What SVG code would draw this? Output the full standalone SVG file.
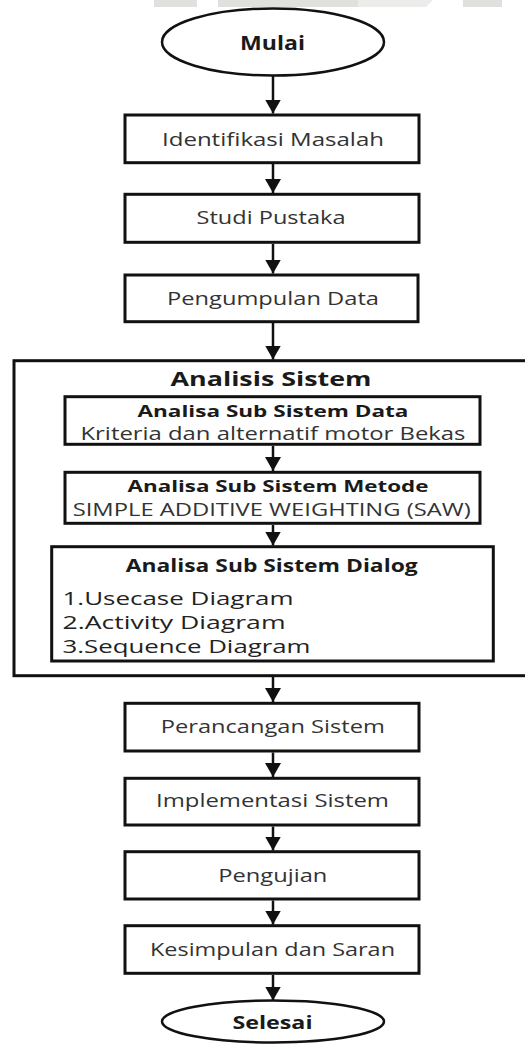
<svg xmlns="http://www.w3.org/2000/svg" width="525" height="1045" viewBox="0 0 525 1045">
  <defs>
    <marker id="arrow" viewBox="0 0 14 16" refX="14" refY="8" markerWidth="14" markerHeight="16" markerUnits="userSpaceOnUse" orient="auto">
      <path d="M0,0 L14,8 L0,16 z" fill="#111"/>
    </marker>
    <style>
      .box { fill: #fff; stroke: #111; stroke-width: 3; }
      .term { fill: #fff; stroke: #111; stroke-width: 2.5; }
      .frame { fill: none; stroke: #111; stroke-width: 3; }
      .edge { stroke: #111; stroke-width: 2.5; fill: none; marker-end: url(#arrow); }
      .lbl { font-family: "Open Sans", "Liberation Sans", sans-serif; font-size: 19px; fill: #333; text-anchor: middle; }
      .bold { font-family: "Open Sans", "Liberation Sans", sans-serif; font-weight: bold; fill: #1a1a1a; text-anchor: middle; }
      .item { font-family: "Open Sans", "Liberation Sans", sans-serif; font-size: 18.5px; fill: #222; }
      .band { fill: #e0e1dd; }
    </style>
  </defs>

  <rect width="525" height="1045" fill="#fff"/>

  <!-- light band along the top edge -->
  <g id="top-band">
    <rect class="band" x="154" y="0" width="43" height="7"/>
    <rect class="band" x="218" y="0" width="140" height="7"/>
    <polygon class="band" points="358,0 433,0 426,7 358,7" opacity="0.6"/>
    <rect class="band" x="463" y="0" width="39" height="7"/>
  </g>

  <!-- outer frame of the system analysis stage -->
  <g id="analisis-sistem">
    <rect class="frame" x="14" y="360.7" width="520" height="315"/>
    <text class="bold" x="271" y="386" font-size="20" textLength="201" lengthAdjust="spacingAndGlyphs">Analisis Sistem</text>
  </g>

  <g id="connectors">
    <line class="edge" x1="273" y1="76" x2="273" y2="113.5"/>
    <line class="edge" x1="273" y1="164" x2="273" y2="193"/>
    <line class="edge" x1="273" y1="244" x2="273" y2="273.5"/>
    <line class="edge" x1="273" y1="323" x2="273" y2="359.5"/>
    <line class="edge" x1="273" y1="446" x2="273" y2="471"/>
    <line class="edge" x1="273" y1="525" x2="273" y2="545.5"/>
    <line class="edge" x1="273" y1="677" x2="273" y2="702"/>
    <line class="edge" x1="273" y1="752.5" x2="273" y2="777"/>
    <line class="edge" x1="273" y1="826.5" x2="273" y2="850.5"/>
    <line class="edge" x1="273" y1="900.5" x2="273" y2="924.5"/>
    <line class="edge" x1="273" y1="975" x2="273" y2="1000.5"/>
  </g>

  <g id="mulai">
    <ellipse class="term" cx="273" cy="42" rx="111" ry="33.5"/>
    <text class="bold" x="272.5" y="50" font-size="19" textLength="65" lengthAdjust="spacingAndGlyphs">Mulai</text>
  </g>

  <g id="identifikasi-masalah">
    <rect class="box" x="125" y="115" width="294" height="47.7"/>
    <text class="lbl" x="273" y="146" textLength="222" lengthAdjust="spacingAndGlyphs">Identifikasi Masalah</text>
  </g>

  <g id="studi-pustaka">
    <rect class="box" x="125" y="194.3" width="294" height="48"/>
    <text class="lbl" x="271" y="224" textLength="149" lengthAdjust="spacingAndGlyphs">Studi Pustaka</text>
  </g>

  <g id="pengumpulan-data">
    <rect class="box" x="125" y="275" width="293" height="46.7"/>
    <text class="lbl" x="273" y="305" textLength="212" lengthAdjust="spacingAndGlyphs">Pengumpulan Data</text>
  </g>

  <g id="sub-sistem-data">
    <rect class="box" x="65" y="396.7" width="415" height="47.6"/>
    <text class="bold" x="273" y="416.7" font-size="16.5" textLength="271" lengthAdjust="spacingAndGlyphs">Analisa Sub Sistem Data</text>
    <text class="lbl" x="273" y="440" textLength="385" lengthAdjust="spacingAndGlyphs">Kriteria dan alternatif motor Bekas</text>
  </g>

  <g id="sub-sistem-metode">
    <rect class="box" x="65" y="472.3" width="415" height="51"/>
    <text class="bold" x="278" y="492.2" font-size="16.5" textLength="301" lengthAdjust="spacingAndGlyphs">Analisa Sub Sistem Metode</text>
    <text class="lbl" x="271.7" y="515.6" font-size="17" textLength="398" lengthAdjust="spacingAndGlyphs">SIMPLE ADDITIVE WEIGHTING (SAW)</text>
  </g>

  <g id="sub-sistem-dialog">
    <rect class="box" x="51.7" y="546.7" width="441.6" height="114.3"/>
    <text class="bold" x="271.7" y="571.7" font-size="17" textLength="292" lengthAdjust="spacingAndGlyphs">Analisa Sub Sistem Dialog</text>
    <text class="item" x="62.5" y="604.6" textLength="231" lengthAdjust="spacingAndGlyphs">1.Usecase Diagram</text>
    <text class="item" x="62.5" y="628.8" textLength="223" lengthAdjust="spacingAndGlyphs">2.Activity Diagram</text>
    <text class="item" x="62.5" y="653" textLength="248" lengthAdjust="spacingAndGlyphs">3.Sequence Diagram</text>
  </g>

  <g id="perancangan-sistem">
    <rect class="box" x="125" y="703.3" width="294" height="47.7"/>
    <text class="lbl" x="272.8" y="733.3" textLength="224" lengthAdjust="spacingAndGlyphs">Perancangan Sistem</text>
  </g>

  <g id="implementasi-sistem">
    <rect class="box" x="125" y="778.3" width="294" height="46.7"/>
    <text class="lbl" x="272.5" y="807.3" textLength="233" lengthAdjust="spacingAndGlyphs">Implementasi Sistem</text>
  </g>

  <g id="pengujian">
    <rect class="box" x="125" y="851.7" width="294" height="47.3"/>
    <text class="lbl" x="272.8" y="881.7" textLength="109" lengthAdjust="spacingAndGlyphs">Pengujian</text>
  </g>

  <g id="kesimpulan-dan-saran">
    <rect class="box" x="125" y="925.7" width="294" height="47.6"/>
    <text class="lbl" x="272.5" y="956" textLength="245" lengthAdjust="spacingAndGlyphs">Kesimpulan dan Saran</text>
  </g>

  <g id="selesai">
    <ellipse class="term" cx="273" cy="1021.5" rx="111" ry="21"/>
    <text class="bold" x="272.5" y="1029.3" font-size="18.5" textLength="80" lengthAdjust="spacingAndGlyphs">Selesai</text>
  </g>
</svg>
